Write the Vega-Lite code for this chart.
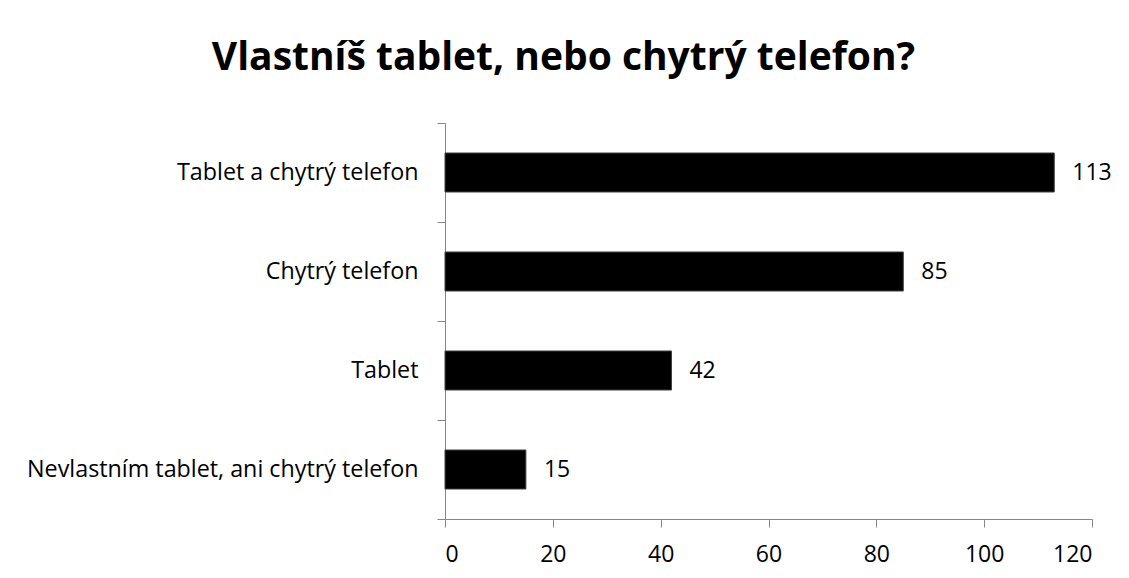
{
  "$schema": "https://vega.github.io/schema/vega-lite/v6.json",
  "width": 647,
  "height": 396,
  "autosize": {"type": "none"},
  "padding": {"left": 445, "top": 123, "right": 37, "bottom": 59},
  "background": "white",
  "title": {
    "text": "Vlastníš tablet, nebo chytrý telefon?",
    "font": "Open Sans",
    "fontSize": 39,
    "fontWeight": "bold",
    "color": "black",
    "anchor": "middle",
    "frame": "group",
    "baseline": "alphabetic",
    "dx": -205,
    "dy": 48,
    "offset": 50
  },
  "data": {
    "values": [
      {"kategorie": "Tablet a chytrý telefon", "pocet": 113},
      {"kategorie": "Chytrý telefon", "pocet": 85},
      {"kategorie": "Tablet", "pocet": 42},
      {"kategorie": "Nevlastním tablet, ani chytrý telefon", "pocet": 15}
    ]
  },
  "encoding": {
    "y": {
      "field": "kategorie",
      "type": "nominal",
      "sort": null,
      "scale": {"paddingInner": 0, "paddingOuter": 0},
      "axis": {
        "title": null,
        "tickBand": "extent",
        "tickSize": 8,
        "labelPadding": 19,
        "labelFont": "Open Sans",
        "labelFontSize": 23.3,
        "labelColor": "black",
        "domainColor": "#868686",
        "tickColor": "#868686",
        "labelLimit": 500
      }
    },
    "x": {
      "field": "pocet",
      "type": "quantitative",
      "scale": {"domain": [0, 120], "nice": false},
      "axis": {
        "title": null,
        "values": [0, 20, 40, 60, 80, 100, 120],
        "grid": false,
        "tickSize": 8,
        "labelPadding": 16,
        "labelFont": "Open Sans",
        "labelFontSize": 23,
        "labelColor": "black",
        "domainColor": "#868686",
        "tickColor": "#868686"
      }
    }
  },
  "layer": [
    {
      "mark": {"type": "bar", "height": {"band": 0.394}, "color": "black", "stroke": "#404040", "strokeWidth": 1}
    },
    {
      "mark": {"type": "text", "align": "left", "baseline": "middle", "dx": 18, "font": "Open Sans", "fontSize": 23, "color": "black"},
      "encoding": {"text": {"field": "pocet", "type": "quantitative"}}
    }
  ],
  "config": {"view": {"stroke": null}}
}
